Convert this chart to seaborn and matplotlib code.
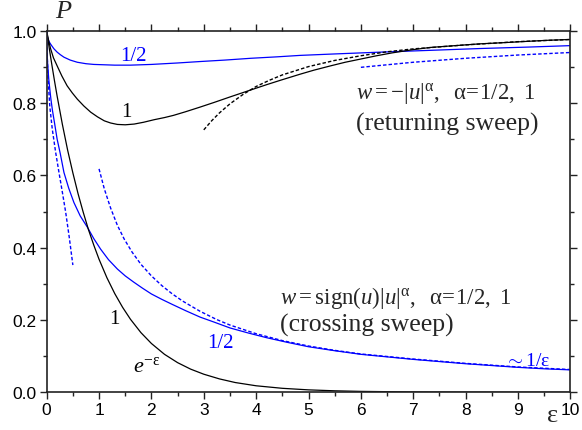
import numpy as np
import pandas as pd
import seaborn as sns
import matplotlib
matplotlib.use("Agg")
import matplotlib.pyplot as plt
from matplotlib.ticker import MultipleLocator, FormatStrFormatter

# returning sweep, alpha = 1/2 (blue solid)
ret_half_x = [0, 0.01, 0.03, 0.05, 0.076, 0.1, 0.14, 0.2, 0.26, 0.33, 0.45, 0.585, 0.75, 0.9, 1.1, 1.3,
              1.6, 2.0, 2.5, 2.93, 3.4, 3.9, 4.4, 4.84, 5.5, 6.37, 7.33, 8.28, 9.2, 10]
ret_half_y = [1.0, 0.985, 0.975, 0.969, 0.963, 0.958, 0.95, 0.941, 0.934, 0.927, 0.919, 0.913, 0.909, 0.907, 0.906, 0.905,
              0.905, 0.907, 0.911, 0.915, 0.919, 0.924, 0.928, 0.932, 0.936, 0.941, 0.946, 0.951, 0.955, 0.959]

# returning sweep, alpha = 1 (black solid)
ret_one_x = [0, 0.02, 0.05, 0.076, 0.13, 0.2, 0.29, 0.39, 0.49, 0.585, 0.71, 0.84, 0.97, 1.1, 1.22, 1.35, 1.5,
             1.67, 1.85, 2.05, 2.25, 2.42, 2.65, 2.93, 3.2, 3.5, 3.89, 4.2, 4.46, 4.84, 5.1, 5.42, 5.7, 6.0,
             6.3, 6.6, 7.0, 7.33, 7.8, 8.28, 8.7, 9.2, 9.6, 10]
ret_one_y = [1.0, 0.985, 0.965, 0.95, 0.925, 0.903, 0.875, 0.848, 0.828, 0.811, 0.792, 0.775, 0.762, 0.751, 0.745, 0.741, 0.740,
             0.742, 0.747, 0.754, 0.760, 0.766, 0.776, 0.789, 0.802, 0.817, 0.836, 0.851, 0.863, 0.880, 0.891, 0.903, 0.913, 0.922,
             0.931, 0.939, 0.948, 0.954, 0.959, 0.964, 0.967, 0.971, 0.974, 0.976]

# returning sweep asymptotes (dashed)
ret_one_asym_x = [3.0, 3.15, 3.3, 3.5, 3.75, 4.0, 4.25, 4.5, 5.0, 5.5, 6.0, 6.5, 7.0, 8.0, 9.0, 10.0]
ret_one_asym_y = [0.726, 0.751, 0.773, 0.798, 0.824, 0.846, 0.863, 0.878, 0.901, 0.918, 0.931, 0.942, 0.950, 0.961, 0.970, 0.976]
ret_half_asym_x = [6.0, 7.0, 8.0, 9.0, 10.0]
ret_half_asym_y = [0.899, 0.913, 0.924, 0.933, 0.940]

# crossing sweep, alpha = 1/2 (blue solid)
cross_half_x = [0, 0.005, 0.01, 0.02, 0.04, 0.06, 0.08, 0.11, 0.15, 0.2, 0.26, 0.33, 0.42, 0.52, 0.64, 0.78, 0.9,
                1.03, 1.18, 1.35, 1.5, 1.66, 1.83, 2.0, 2.2, 2.4, 2.65, 2.93, 3.2, 3.5, 3.85, 4.2, 4.6, 5.0,
                5.5, 6.0, 6.5, 7.0, 7.5, 8.0, 8.5, 9.0, 9.5, 10]
cross_half_y = [1.0, 0.953, 0.933, 0.905, 0.866, 0.838, 0.812, 0.78, 0.745, 0.70, 0.66, 0.608, 0.565, 0.525, 0.488, 0.456, 0.425,
                0.396, 0.367, 0.341, 0.322, 0.305, 0.288, 0.272, 0.257, 0.243, 0.226, 0.208, 0.194, 0.178, 0.164, 0.151, 0.138, 0.126,
                0.115, 0.105, 0.098, 0.091, 0.085, 0.079, 0.074, 0.069, 0.065, 0.062]

# crossing sweep asymptotes (blue dashed)
cross_short_x = [0, 0.01, 0.03, 0.06, 0.107, 0.17, 0.235, 0.3, 0.363, 0.43, 0.5]
cross_short_y = [1.0, 0.93, 0.86, 0.79, 0.728, 0.665, 0.608, 0.553, 0.498, 0.43, 0.352]
cross_long_x = [1.0, 1.1, 1.22, 1.35, 1.48, 1.63, 1.8, 2.0, 2.2, 2.4, 2.6, 2.93, 3.25, 3.5, 4.0, 4.5,
                5.0, 5.5, 6.0, 7.0, 8.0, 9.0, 10.0]
cross_long_y = [0.618, 0.563, 0.510, 0.462, 0.424, 0.388, 0.354, 0.322, 0.295, 0.272, 0.252, 0.224, 0.201, 0.186, 0.162, 0.143,
                0.128, 0.116, 0.106, 0.092, 0.080, 0.070, 0.063]

# crossing sweep, alpha = 1 : e^-eps (black solid)
exp_x = [0, 0.05, 0.1, 0.15, 0.2, 0.3, 0.4, 0.5, 0.6, 0.7, 0.8, 0.9, 1.0, 1.15, 1.3, 1.45, 1.6, 1.8, 2.0,
         2.25, 2.5, 2.75, 3.0, 3.3, 3.6, 4.0, 4.5, 5.0, 5.5, 6.0, 7.0, 8.0, 9.0, 10.0]
exp_y = [1.0, 0.951, 0.905, 0.861, 0.819, 0.741, 0.670, 0.607, 0.549, 0.497, 0.449, 0.407, 0.368, 0.317, 0.273, 0.235, 0.202,
         0.165, 0.135, 0.105, 0.082, 0.064, 0.050, 0.037, 0.027, 0.018, 0.011, 0.0067, 0.0041, 0.0025, 0.0009, 0.0003,
         0.0001, 0.00005]

sns.set_theme(style="ticks")
plt.rcParams["font.family"] = ["Liberation Sans", "DejaVu Sans"]
plt.rcParams["mathtext.fontset"] = "custom"
plt.rcParams["mathtext.rm"] = "Liberation Serif"
plt.rcParams["mathtext.it"] = "Liberation Serif:italic"

BLUE = "#0000ff"

fig = plt.figure(figsize=(5.82, 4.31), dpi=100)
ax = fig.add_axes([0.0802, 0.0875, 0.8998, 0.8387])

solid = [
    (ret_half_x, ret_half_y, BLUE),
    (ret_one_x, ret_one_y, "black"),
    (cross_half_x, cross_half_y, BLUE),
    (exp_x, exp_y, "black"),
]
for xs, ys, c in solid:
    sns.lineplot(x=xs, y=ys, ax=ax, color=c, linewidth=0.9, errorbar=None)

dashed = [
    (ret_one_asym_x, ret_one_asym_y, "black"),
    (ret_half_asym_x, ret_half_asym_y, BLUE),
    (cross_short_x, cross_short_y, BLUE),
    (cross_long_x, cross_long_y, BLUE),
]
for xs, ys, c in dashed:
    sns.lineplot(x=xs, y=ys, ax=ax, color=c, linewidth=1.0, errorbar=None,
                 linestyle=(0, (2.5, 1.5)))

ax.set_xlim(0, 10)
ax.set_ylim(0, 1)
ax.xaxis.set_major_locator(MultipleLocator(1))
ax.xaxis.set_minor_locator(MultipleLocator(0.5))
ax.yaxis.set_major_locator(MultipleLocator(0.2))
ax.yaxis.set_minor_locator(MultipleLocator(0.1))
ax.yaxis.set_major_formatter(FormatStrFormatter("%.1f"))
ax.tick_params(which="both", direction="out", top=True, right=True, color="#222222",
               width=1.0, labelsize=12.5, pad=2, labelcolor="black")
ax.tick_params(which="major", length=5)
ax.tick_params(which="minor", length=3)
for s in ax.spines.values():
    s.set_visible(True)
    s.set_linewidth(1.2)
    s.set_color("#222222")
ax.set_xlabel("")
ax.set_ylabel("")

serif = ["Liberation Serif", "DejaVu Serif"]
fig.text(0.108, 0.972, "P", fontsize=19, style="italic", family=serif, ha="center", va="center")
fig.text(0.95, 0.035, "ε", fontsize=19, family=serif, ha="center", va="center")

ax.text(1.65, 0.933, "1/2", color=BLUE, fontsize=15, family=serif, ha="center", va="center")
ax.text(1.53, 0.778, "1", color="black", fontsize=15, family=serif, ha="center", va="center")
ax.text(1.29, 0.203, "1", color="black", fontsize=15, family=serif, ha="center", va="center")
ax.text(3.31, 0.137, "1/2", color=BLUE, fontsize=15, family=serif, ha="center", va="center")
ax.text(1.92, 0.075, r"$e^{-\mathrm{\varepsilon}}$", color="black", fontsize=16, ha="center", va="center")
ax.text(9.18, 0.087, r"$\mathrm{\sim 1/\varepsilon}$", color=BLUE, fontsize=14, ha="center", va="center")

ax.text(5.9, 0.828, r"$w = -|u|^{\mathrm{\alpha}},\ \ \mathrm{\alpha\! =\! 1/2,\ 1}$",
        fontsize=16.5, ha="left", va="center")
ax.text(5.9, 0.745, "(returning sweep)", fontsize=18.5, family=serif, ha="left", va="center")
ax.text(4.46, 0.263, r"$w = \mathrm{sign}(u)|u|^{\mathrm{\alpha}},\ \ \mathrm{\alpha\! =\! 1/2,\ 1}$",
        fontsize=16.5, ha="left", va="center")
ax.text(4.46, 0.189, "(crossing sweep)", fontsize=18.5, family=serif, ha="left", va="center")

fig.savefig("out.png", dpi=100)
